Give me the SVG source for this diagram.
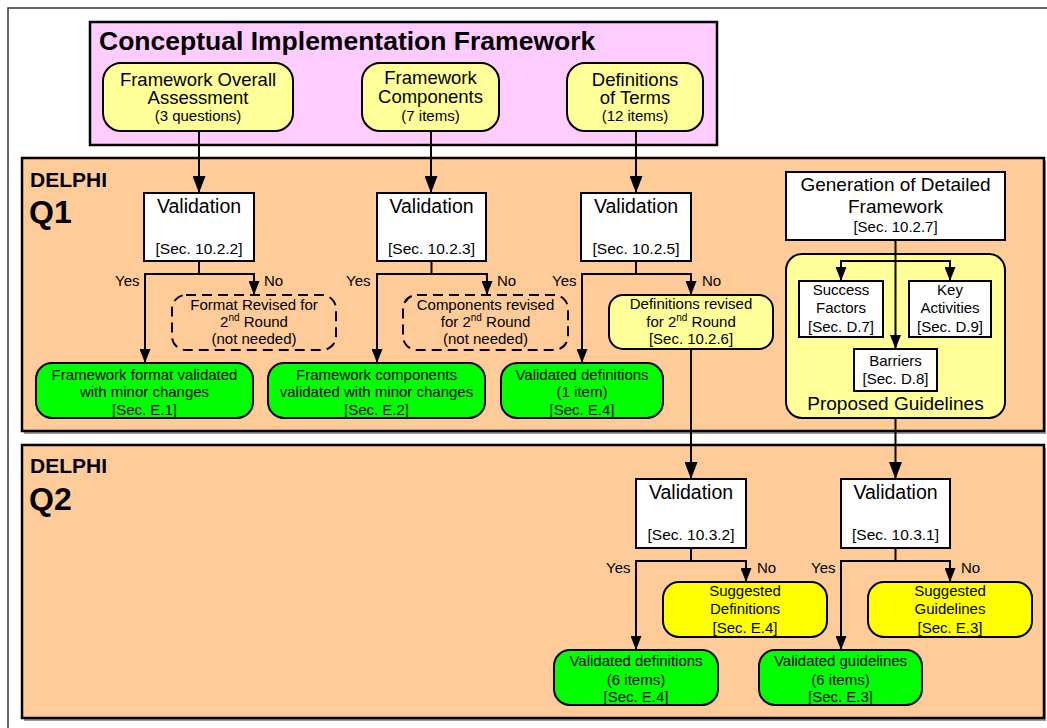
<svg xmlns="http://www.w3.org/2000/svg" width="1047" height="728" viewBox="0 0 1047 728">
  <defs>
    <style>
      text { font-family: "Liberation Sans", Arial, sans-serif; fill: #000; }
      .c { text-anchor: middle; }
      .b { font-weight: bold; }
      .panel { fill: #FFCC99; stroke: #000; stroke-width: 2.5; }
      .shadow { fill: #9a9a9a; }
      .pink { fill: #FFCCFF; stroke: #000; stroke-width: 2.5; }
      .lt { fill: #FFFF99; stroke: #000; stroke-width: 2; }
      .yel { fill: #FFFF00; stroke: #000; stroke-width: 2; }
      .grn { fill: #00FF00; stroke: #000; stroke-width: 2; }
      .wht { fill: #FFFFFF; stroke: #000; stroke-width: 2; }
      .dash { fill: none; stroke: #000; stroke-width: 2; stroke-dasharray: 10 6; }
      .conn { fill: none; stroke: #000; stroke-width: 2; }
      .big { marker-end: url(#arrBig); }
      .sm { marker-end: url(#arrSm); }
      .f19 { font-size: 19px; }
      .f185 { font-size: 18.5px; }
      .f15 { font-size: 15px; }
    </style>
    <marker id="arrBig" markerUnits="userSpaceOnUse" markerWidth="18" markerHeight="13" refX="17" refY="6.5" orient="auto">
      <path d="M0,0 L17,6.5 L0,13 z" fill="#000"/>
    </marker>
    <marker id="arrSm" markerUnits="userSpaceOnUse" markerWidth="15" markerHeight="11" refX="14" refY="5.5" orient="auto">
      <path d="M0,0 L14,5.5 L0,11 z" fill="#000"/>
    </marker>
  </defs>

  <!-- page frame -->
  <path d="M8,728 V8 H1047" fill="none" stroke="#333" stroke-width="1.5"/>

  <!-- framework block -->
  <g id="framework">
    <rect class="pink" x="90" y="22" width="627" height="123"/>
    <text class="b" x="99" y="50" font-size="26.5">Conceptual Implementation Framework</text>
  </g>
  <g id="overall">
    <rect class="lt" x="103" y="63" width="190" height="68" rx="18"/>
    <text class="c f185" x="198" y="86">Framework Overall</text>
    <text class="c f185" x="198" y="104">Assessment</text>
    <text class="c f15" x="198" y="121">(3 questions)</text>
  </g>
  <g id="components">
    <rect class="lt" x="362" y="63" width="137" height="68" rx="18"/>
    <text class="c f185" x="430.5" y="84">Framework</text>
    <text class="c f185" x="430.5" y="103">Components</text>
    <text class="c f15" x="430.5" y="121">(7 items)</text>
  </g>
  <g id="terms">
    <rect class="lt" x="567" y="63" width="136" height="68" rx="18"/>
    <text class="c f185" x="635" y="86">Definitions</text>
    <text class="c f185" x="635" y="104">of Terms</text>
    <text class="c f15" x="635" y="121">(12 items)</text>
  </g>

  <!-- round 1 panel -->
  <g id="q1-panel">
    <rect class="shadow" x="24" y="161" width="1022" height="273"/>
    <rect class="panel" x="22" y="158" width="1022" height="273"/>
    <text class="b" x="30" y="187" font-size="21">DELPHI</text>
    <text class="b" x="29" y="223" font-size="32">Q1</text>
  </g>

  <!-- round 2 panel -->
  <g id="q2-panel">
    <rect class="shadow" x="24" y="448" width="1022" height="273"/>
    <rect class="panel" x="22" y="445" width="1022" height="273"/>
    <text class="b" x="30" y="473" font-size="21">DELPHI</text>
    <text class="b" x="29" y="510" font-size="32">Q2</text>
  </g>

  <!-- Q1 validations -->
  <g id="val-1022">
    <rect class="wht" x="144" y="193" width="110" height="68"/>
    <text class="c" x="199" y="213" font-size="19.5">Validation</text>
    <text class="c" x="199" y="254" font-size="15.5">[Sec. 10.2.2]</text>
  </g>
  <g id="val-1023">
    <rect class="wht" x="377" y="193" width="109" height="68"/>
    <text class="c" x="431.5" y="213" font-size="19.5">Validation</text>
    <text class="c" x="431.5" y="254" font-size="15.5">[Sec. 10.2.3]</text>
  </g>
  <g id="val-1025">
    <rect class="wht" x="581" y="193" width="110" height="68"/>
    <text class="c" x="636" y="213" font-size="19.5">Validation</text>
    <text class="c" x="636" y="254" font-size="15.5">[Sec. 10.2.5]</text>
  </g>

  <!-- Q1 outcomes -->
  <g id="format-revised">
    <rect class="dash" x="172" y="295" width="164" height="55" rx="14"/>
    <text class="c f15" x="254" y="310">Format Revised for</text>
    <text class="c f15" x="254" y="327">2<tspan font-size="10" dy="-6">nd</tspan><tspan dy="6"> Round</tspan></text>
    <text class="c f15" x="254" y="344">(not needed)</text>
  </g>
  <g id="format-validated">
    <rect class="grn" x="36" y="363" width="217" height="55" rx="16"/>
    <text class="c f15" x="144.5" y="380">Framework format validated</text>
    <text class="c f15" x="144.5" y="397">with minor changes</text>
    <text class="c f15" x="144.5" y="415">[Sec. E.1]</text>
  </g>
  <g id="components-revised">
    <rect class="dash" x="403" y="295" width="165" height="55" rx="14"/>
    <text class="c f15" x="485.5" y="310">Components revised</text>
    <text class="c f15" x="485.5" y="327">for 2<tspan font-size="10" dy="-6">nd</tspan><tspan dy="6"> Round</tspan></text>
    <text class="c f15" x="485.5" y="344">(not needed)</text>
  </g>
  <g id="components-validated">
    <rect class="grn" x="268" y="363" width="217" height="55" rx="16"/>
    <text class="c f15" x="376.5" y="380">Framework components</text>
    <text class="c f15" x="376.5" y="397">validated with minor changes</text>
    <text class="c f15" x="376.5" y="415">[Sec. E.2]</text>
  </g>
  <g id="definitions-revised">
    <rect class="lt" x="609" y="295" width="164" height="54" rx="14"/>
    <text class="c f15" x="691" y="309">Definitions revised</text>
    <text class="c f15" x="691" y="327">for 2<tspan font-size="10" dy="-6">nd</tspan><tspan dy="6"> Round</tspan></text>
    <text class="c f15" x="691" y="344">[Sec. 10.2.6]</text>
  </g>
  <g id="definitions-validated-1">
    <rect class="grn" x="501" y="363" width="162" height="55" rx="16"/>
    <text class="c f15" x="582" y="380">Validated definitions</text>
    <text class="c f15" x="582" y="397">(1 item)</text>
    <text class="c f15" x="582" y="415">[Sec. E.4]</text>
  </g>

  <!-- detailed framework -->
  <g id="generation">
    <rect class="wht" x="786" y="172" width="219" height="68"/>
    <text class="c f19" x="895.5" y="191">Generation of Detailed</text>
    <text class="c f19" x="895.5" y="213">Framework</text>
    <text class="c f15" x="895.5" y="232">[Sec. 10.2.7]</text>
  </g>
  <g id="proposed-guidelines">
    <rect class="lt" x="786" y="254" width="219" height="164" rx="16"/>
    <text class="c f19" x="895.5" y="410">Proposed Guidelines</text>
  </g>
  <g id="success-factors">
    <rect class="wht" x="799" y="281" width="84" height="56"/>
    <text class="c f15" x="841" y="295">Success</text>
    <text class="c f15" x="841" y="313">Factors</text>
    <text class="c f15" x="841" y="332">[Sec. D.7]</text>
  </g>
  <g id="key-activities">
    <rect class="wht" x="909" y="281" width="82" height="56"/>
    <text class="c f15" x="950" y="295">Key</text>
    <text class="c f15" x="950" y="313">Activities</text>
    <text class="c f15" x="950" y="332">[Sec. D.9]</text>
  </g>
  <g id="barriers">
    <rect class="wht" x="854" y="349" width="83" height="42"/>
    <text class="c f15" x="895.5" y="366">Barriers</text>
    <text class="c f15" x="895.5" y="384">[Sec. D.8]</text>
  </g>

  <!-- Q2 validations -->
  <g id="val-1032">
    <rect class="wht" x="636" y="479" width="110" height="69"/>
    <text class="c" x="691" y="499" font-size="19.5">Validation</text>
    <text class="c" x="691" y="540" font-size="15.5">[Sec. 10.3.2]</text>
  </g>
  <g id="val-1031">
    <rect class="wht" x="841" y="479" width="109" height="69"/>
    <text class="c" x="895.5" y="499" font-size="19.5">Validation</text>
    <text class="c" x="895.5" y="540" font-size="15.5">[Sec. 10.3.1]</text>
  </g>

  <!-- Q2 outcomes -->
  <g id="suggested-definitions">
    <rect class="yel" x="663" y="582" width="164" height="55" rx="16"/>
    <text class="c f15" x="745" y="596">Suggested</text>
    <text class="c f15" x="745" y="614">Definitions</text>
    <text class="c f15" x="745" y="633">[Sec. E.4]</text>
  </g>
  <g id="definitions-validated-6">
    <rect class="grn" x="554" y="650" width="164" height="55" rx="16"/>
    <text class="c f15" x="636" y="666">Validated definitions</text>
    <text class="c f15" x="636" y="685">(6 items)</text>
    <text class="c f15" x="636" y="702">[Sec. E.4]</text>
  </g>
  <g id="suggested-guidelines">
    <rect class="yel" x="868" y="582" width="164" height="55" rx="16"/>
    <text class="c f15" x="950" y="596">Suggested</text>
    <text class="c f15" x="950" y="614">Guidelines</text>
    <text class="c f15" x="950" y="633">[Sec. E.3]</text>
  </g>
  <g id="guidelines-validated">
    <rect class="grn" x="759" y="650" width="163" height="55" rx="16"/>
    <text class="c f15" x="840.5" y="666">Validated guidelines</text>
    <text class="c f15" x="840.5" y="685">(6 items)</text>
    <text class="c f15" x="840.5" y="702">[Sec. E.3]</text>
  </g>

  <!-- connectors -->
  <g id="connectors">
    <path class="conn big" d="M199,131 V193"/>
    <path class="conn big" d="M431,131 V193"/>
    <path class="conn big" d="M636,131 V193"/>

    <path class="conn sm" d="M199,261 V274 H145 V363"/>
    <path class="conn sm" d="M199,274 H254 V295"/>
    <path class="conn sm" d="M431.5,261 V274 H377 V363"/>
    <path class="conn sm" d="M431.5,274 H487 V295"/>
    <path class="conn sm" d="M636,261 V274 H582 V363"/>
    <path class="conn sm" d="M636,274 H691 V295"/>

    <path class="conn sm" d="M895.5,240 V349"/>
    <path class="conn sm" d="M895.5,261 H841 V281"/>
    <path class="conn sm" d="M895.5,261 H950 V281"/>

    <path class="conn big" d="M691,349 V479"/>
    <path class="conn big" d="M895.5,418 V479"/>

    <path class="conn sm" d="M691,548 V561 H636 V650"/>
    <path class="conn sm" d="M691,561 H746 V582"/>
    <path class="conn sm" d="M895.5,548 V561 H841 V650"/>
    <path class="conn sm" d="M895.5,561 H950 V582"/>

    <g id="branch-labels" font-size="15">
      <text x="115" y="286">Yes</text>
      <text x="264" y="286">No</text>
      <text x="346" y="286">Yes</text>
      <text x="497" y="286">No</text>
      <text x="552" y="286">Yes</text>
      <text x="702" y="286">No</text>
      <text x="606" y="573">Yes</text>
      <text x="757" y="573">No</text>
      <text x="811" y="573">Yes</text>
      <text x="961" y="573">No</text>
    </g>
  </g>
</svg>
